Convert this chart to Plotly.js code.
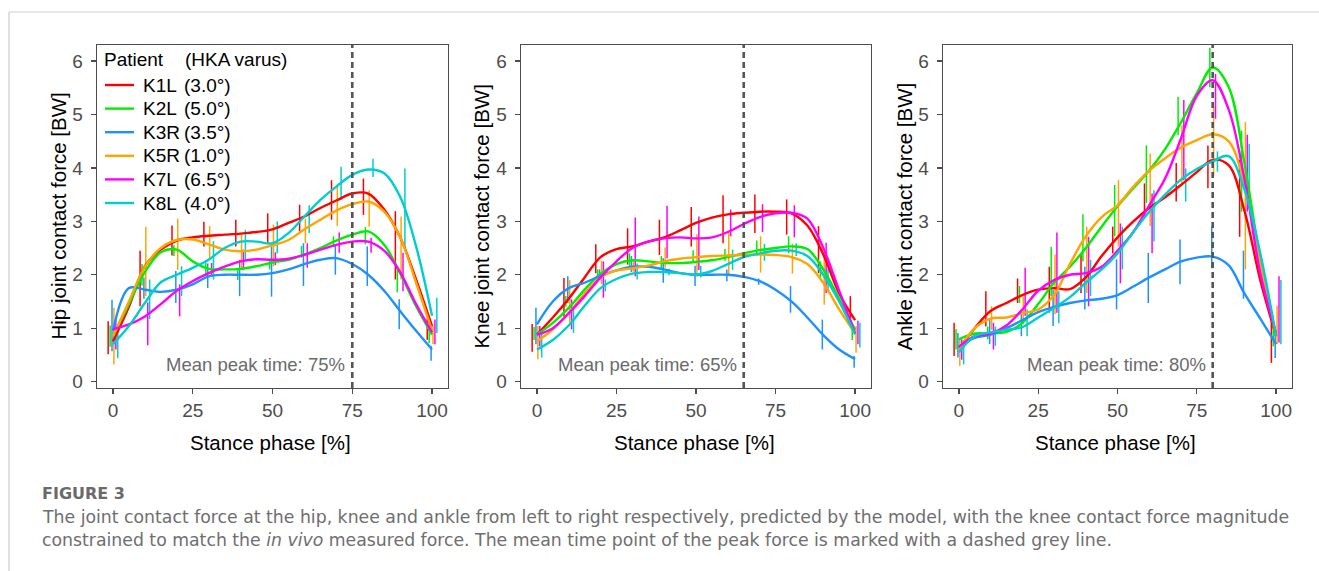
<!DOCTYPE html>
<html><head><meta charset="utf-8">
<script src="https://cdn.plot.ly/plotly-3.0.1.min.js"></script>
<style>html,body{margin:0;padding:0;background:#fff;}#chart{width:1319px;height:571px;}</style>
</head><body><div id="chart"></div>
<script>
// ---------- DATA ----------
const stanceCurve = [0,5,10,15,20,25,30,35,40,45,50,55,60,65,70,75,80,85,90,95,100];
const stanceBars = [0,10,20,30,40,50,60,70,80,90,100];
const patients = ['K1L','K2L','K3R','K5R','K7L','K8L'];
const varus = ['(3.0°)','(5.0°)','(3.5°)','(1.0°)','(6.5°)','(4.0°)'];
const yTitles = ['Hip joint contact force [BW]','Knee joint contact force [BW]','Ankle joint contact force [BW]'];
const xTitle = 'Stance phase [%]';
const peakTimes = [75, 65, 80];
const xTickVals = [0,25,50,75,100];
const yTickVals = [0,1,2,3,4,5,6];

// smooth curves (rows: K1L, K2L, K3R, K5R, K7L, K8L)
const hipCurve = [
  [0.75,1.40,2.16,2.47,2.64,2.70,2.73,2.75,2.77,2.80,2.85,2.97,3.09,3.25,3.39,3.52,3.52,3.22,2.70,1.91,1.04],
  [0.85,1.45,2.05,2.42,2.47,2.25,2.11,2.10,2.11,2.16,2.23,2.28,2.38,2.50,2.64,2.75,2.81,2.56,2.03,1.41,0.88],
  [0.95,1.75,1.72,1.68,1.72,1.82,1.97,2.00,2.00,2.00,2.03,2.10,2.20,2.28,2.31,2.20,2.00,1.70,1.32,0.95,0.60],
  [0.85,1.50,2.15,2.50,2.65,2.66,2.57,2.47,2.44,2.47,2.55,2.65,2.85,3.03,3.20,3.32,3.37,3.18,2.70,1.85,0.95],
  [0.98,1.07,1.22,1.45,1.70,1.88,2.03,2.15,2.25,2.29,2.28,2.30,2.37,2.47,2.56,2.62,2.62,2.45,2.05,1.45,0.92],
  [0.70,1.04,1.47,1.86,2.00,2.13,2.28,2.50,2.62,2.62,2.59,2.78,3.09,3.40,3.65,3.87,3.97,3.90,3.46,2.53,1.23]
];
const kneeCurve = [
  [0.88,1.20,1.55,1.95,2.33,2.48,2.53,2.62,2.70,2.83,2.97,3.07,3.13,3.16,3.18,3.18,3.15,2.92,2.38,1.65,1.15],
  [0.88,1.10,1.38,1.72,2.02,2.20,2.27,2.25,2.22,2.22,2.24,2.27,2.33,2.40,2.46,2.50,2.53,2.48,2.10,1.55,0.97],
  [1.07,1.50,1.75,1.85,1.98,2.08,2.15,2.15,2.10,2.03,2.00,2.00,2.00,1.96,1.88,1.72,1.50,1.20,0.87,0.60,0.42],
  [0.75,0.98,1.28,1.65,1.95,2.08,2.12,2.17,2.25,2.30,2.33,2.35,2.36,2.37,2.38,2.37,2.33,2.20,1.85,1.35,0.90],
  [0.88,1.00,1.28,1.60,1.95,2.25,2.50,2.62,2.68,2.70,2.68,2.70,2.80,2.95,3.08,3.15,3.16,3.05,2.50,1.70,0.90],
  [0.60,0.78,1.05,1.42,1.75,1.92,2.02,2.05,2.05,2.03,2.00,2.07,2.20,2.33,2.40,2.45,2.45,2.35,2.00,1.50,0.88]
];
const ankleCurve = [
  [0.62,1.00,1.32,1.47,1.62,1.72,1.75,1.73,1.95,2.35,2.70,3.00,3.25,3.45,3.68,3.92,4.15,4.05,3.20,1.90,0.85],
  [0.79,0.90,0.90,0.93,1.10,1.45,1.85,2.15,2.50,2.90,3.28,3.62,3.95,4.35,4.85,5.40,5.88,5.52,4.09,2.28,0.85],
  [0.65,0.82,0.88,1.00,1.15,1.30,1.40,1.47,1.52,1.55,1.62,1.78,1.95,2.10,2.25,2.32,2.34,2.18,1.65,1.18,0.70],
  [0.60,1.00,1.18,1.20,1.28,1.35,1.62,2.20,2.72,3.08,3.30,3.65,3.95,4.18,4.38,4.52,4.63,4.50,3.70,2.20,0.85],
  [0.65,0.85,0.90,1.05,1.35,1.70,1.90,2.00,2.03,2.15,2.45,2.80,3.30,3.80,4.55,5.35,5.64,5.10,3.80,2.03,0.90],
  [0.55,0.85,0.92,0.97,1.02,1.20,1.38,1.58,1.85,2.10,2.40,2.80,3.18,3.50,3.78,3.98,4.12,4.22,3.60,2.40,0.85]
];

// means and standard deviations at every 10 % of stance
const hipMean = [
  [0.82,1.93,2.64,2.76,2.78,2.87,3.06,3.40,3.46,2.55,0.98],
  [0.85,2.00,2.45,2.10,2.00,2.20,2.43,2.62,2.73,1.90,0.88],
  [1.05,1.75,1.77,1.98,1.94,2.06,2.19,2.28,2.16,1.26,0.53],
  [0.85,2.25,2.57,2.60,2.42,2.55,2.82,3.28,3.24,2.50,0.87],
  [0.88,1.08,1.52,2.10,2.28,2.30,2.36,2.60,2.55,2.05,0.93],
  [0.74,1.54,1.88,2.27,2.56,2.70,3.04,3.71,4.00,3.23,1.24]
];
const hipSd = [
  [0.31,0.52,0.28,0.23,0.25,0.28,0.25,0.37,0.34,0.64,0.20],
  [0.20,0.20,0.10,0.12,0.10,0.10,0.11,0.10,0.16,0.23,0.16],
  [0.48,0.20,0.30,0.23,0.34,0.47,0.40,0.28,0.37,0.28,0.14],
  [0.53,0.65,0.48,0.31,0.33,0.39,0.23,0.37,0.34,0.59,0.17],
  [0.28,0.40,0.30,0.12,0.19,0.12,0.23,0.19,0.14,0.36,0.23],
  [0.30,0.37,0.28,0.36,0.28,0.30,0.26,0.31,0.17,0.76,0.33]
];
const kneeMean = [
  [0.82,1.58,2.30,2.53,2.70,2.90,3.04,3.14,3.08,2.47,1.35],
  [0.90,1.50,2.00,2.27,2.23,2.35,2.37,2.50,2.56,2.10,0.90],
  [1.04,1.72,2.00,2.20,2.08,1.98,1.99,1.87,1.54,0.88,0.37],
  [0.73,1.50,2.04,2.16,2.32,2.36,2.40,2.38,2.30,1.92,0.79],
  [0.85,1.26,1.91,2.52,2.80,2.59,2.97,3.06,3.00,2.13,0.92],
  [0.68,1.16,1.80,2.06,2.05,2.06,2.28,2.42,2.47,1.90,0.87]
];
const kneeSd = [
  [0.26,0.36,0.27,0.34,0.33,0.37,0.45,0.36,0.33,0.44,0.25],
  [0.12,0.10,0.10,0.13,0.12,0.11,0.11,0.14,0.16,0.15,0.12],
  [0.34,0.25,0.10,0.15,0.23,0.19,0.11,0.06,0.25,0.28,0.11],
  [0.31,0.40,0.22,0.10,0.19,0.40,0.42,0.34,0.28,0.48,0.25],
  [0.19,0.28,0.34,0.55,0.49,0.50,0.25,0.26,0.30,0.47,0.22],
  [0.23,0.25,0.11,0.15,0.06,0.11,0.19,0.16,0.12,0.22,0.23]
];
const ankleMean = [
  [0.79,1.36,1.70,1.72,2.02,2.65,3.40,3.73,4.02,3.43,0.82],
  [0.79,0.91,1.63,2.06,2.69,3.20,3.88,4.97,5.88,3.94,0.88],
  [0.68,0.93,1.10,1.38,1.75,1.82,1.94,2.24,2.51,2.00,0.71],
  [0.54,1.19,1.33,1.82,2.28,3.15,3.59,4.24,4.49,3.48,1.06],
  [0.60,0.85,1.68,2.04,2.06,2.40,2.96,4.52,5.34,3.90,1.35],
  [0.55,0.85,1.10,1.39,1.94,2.50,3.10,3.68,4.12,3.94,1.30]
];
const ankleSd = [
  [0.31,0.33,0.23,0.43,0.36,0.25,0.31,0.36,0.40,0.72,0.47],
  [0.19,0.12,0.16,0.46,0.44,0.48,0.54,0.36,0.37,0.76,0.22],
  [0.23,0.23,0.25,0.34,0.40,0.47,0.47,0.42,0.39,0.45,0.27],
  [0.25,0.22,0.26,0.56,0.62,0.62,0.68,0.56,0.65,1.38,0.36],
  [0.19,0.25,0.45,0.75,0.65,0.56,0.56,0.75,0.42,0.72,0.62],
  [0.23,0.18,0.25,0.30,0.34,0.40,0.48,0.31,0.19,0.51,0.60]
];

const captionTitle = 'FIGURE 3';
const captionLine1 = 'The joint contact force at the hip, knee and ankle from left to right respectively, predicted by the model, with the knee contact force magnitude';
const captionLine2 = 'constrained to match the <i>in vivo</i> measured force. The mean time point of the peak force is marked with a dashed grey line.';

// ---------- STYLE ----------
const colors = ['#FF0000','#00EE00','#1E90FF','#FFA500','#FF00FF','#00CDCD'];
const W = 1319, H = 571;
const FONT = 'Liberation Sans, Arial, sans-serif';
const px = v => v / W;
const py = v => 1 - v / H;
const panelX = [[97,448],[521,871],[943,1292]];
const panelY = [45,388];
const yTitleX = [58, 481, 904];

const curves = [hipCurve, kneeCurve, ankleCurve];
const means = [hipMean, kneeMean, ankleMean];
const sds = [hipSd, kneeSd, ankleSd];

const traces = [];
const layout = {
  width: W, height: H,
  margin: {l:0, r:0, t:0, b:0},
  paper_bgcolor: '#fff', plot_bgcolor: '#fff',
  showlegend: false,
  font: {family: FONT},
  shapes: [], annotations: []
};

for (let j = 0; j < 3; j++) {
  const s = j === 0 ? '' : String(j + 1);
  const xa = 'x' + s, ya = 'y' + s;
  for (let i = 0; i < patients.length; i++) {
    traces.push({
      type: 'scatter', mode: 'markers', xaxis: xa, yaxis: ya,
      x: stanceBars.map(v => v + (i - 2.5) * 0.6),
      y: means[j][i],
      marker: {size: 2, opacity: 0, color: colors[i]},
      error_y: {type: 'data', array: sds[j][i], visible: true, width: 0, thickness: 1.5, color: colors[i]},
      hoverinfo: 'skip', showlegend: false
    });
  }
  for (let i = 0; i < patients.length; i++) {
    traces.push({
      type: 'scatter', mode: 'lines', xaxis: xa, yaxis: ya,
      x: stanceCurve, y: curves[j][i],
      line: {shape: 'spline', smoothing: 1, color: colors[i], width: 2.4},
      name: patients[i] + ' ' + varus[i], showlegend: false
    });
  }
  const axCommon = {
    showline: true, mirror: true, linecolor: '#4d4d4d', linewidth: 1.3,
    ticks: 'outside', ticklen: 5, tickwidth: 1.3, tickcolor: '#4d4d4d',
    showgrid: false, zeroline: false,
    tickfont: {family: FONT, size: 19, color: '#4d4d4d'}
  };
  layout['xaxis' + s] = Object.assign({}, axCommon, {
    domain: [px(panelX[j][0]), px(panelX[j][1])], anchor: ya,
    range: [-5, 105], tickvals: xTickVals, ticktext: xTickVals.map(String)
  });
  layout['yaxis' + s] = Object.assign({}, axCommon, {
    domain: [py(panelY[1]), py(panelY[0])], anchor: xa,
    range: [-0.12, 6.3], tickvals: yTickVals, ticktext: yTickVals.map(String),
    ticklabelstandoff: 4
  });
  // dashed line at mean peak time
  layout.shapes.push({
    type: 'line', xref: xa, yref: ya + ' domain', x0: peakTimes[j], x1: peakTimes[j], y0: 0, y1: 1,
    line: {color: '#555555', width: 2.6, dash: '6px,4px'}, layer: 'above'
  });
  layout.annotations.push({
    xref: xa, yref: ya, x: peakTimes[j] - 1.6, y: 0.32, xanchor: 'right', yanchor: 'middle',
    text: 'Mean peak time: ' + peakTimes[j] + '%', showarrow: false,
    font: {family: FONT, size: 18.5, color: '#6b6b6b'}
  });
  // axis titles
  layout.annotations.push({
    xref: 'paper', yref: 'paper', x: px((panelX[j][0] + panelX[j][1]) / 2 - 2), y: py(442),
    xanchor: 'center', yanchor: 'middle', text: xTitle, showarrow: false,
    font: {family: FONT, size: 20.5, color: '#000'}
  });
  layout.annotations.push({
    xref: 'paper', yref: 'paper', x: px(yTitleX[j]), y: py((panelY[0] + panelY[1]) / 2),
    xanchor: 'center', yanchor: 'middle', textangle: -90, text: yTitles[j], showarrow: false,
    font: {family: FONT, size: 20.5, color: '#000'}
  });
}

// legend drawn inside the hip panel
const legFont = {family: FONT, size: 19, color: '#000'};
layout.annotations.push({xref:'paper', yref:'paper', x: px(102), y: py(60), xanchor:'left', yanchor:'middle',
  text:'Patient', showarrow:false, font: legFont});
layout.annotations.push({xref:'paper', yref:'paper', x: px(183), y: py(60), xanchor:'left', yanchor:'middle',
  text:'(HKA varus)', showarrow:false, font: legFont});
for (let i = 0; i < patients.length; i++) {
  const yy = 85 + i * 23.6;
  layout.shapes.push({type:'line', xref:'paper', yref:'paper', x0: px(105), x1: px(134), y0: py(yy), y1: py(yy),
    line: {color: colors[i], width: 2.4}});
  layout.annotations.push({xref:'paper', yref:'paper', x: px(141), y: py(yy), xanchor:'left', yanchor:'middle',
    text: patients[i], showarrow:false, font: legFont});
  layout.annotations.push({xref:'paper', yref:'paper', x: px(182), y: py(yy), xanchor:'left', yanchor:'middle',
    text: varus[i], showarrow:false, font: legFont});
}

// frame lines around the figure block
layout.shapes.push({type:'line', xref:'paper', yref:'paper', x0: px(9), x1: 1, y0: py(12), y1: py(12),
  line:{color:'#cccccc', width:1.2}});
layout.shapes.push({type:'line', xref:'paper', yref:'paper', x0: px(9), x1: px(9), y0: py(12), y1: 0,
  line:{color:'#cccccc', width:1.2}});

// caption
const capFamily = 'DejaVu Sans, Open Sans, sans-serif';
const capFont = {family: capFamily, size: 17.3, color: '#6e6e6e'};
layout.annotations.push({xref:'paper', yref:'paper', x: px(40), y: py(493), xanchor:'left', yanchor:'middle',
  text: '<b>' + captionTitle + '</b>', showarrow:false, font: {family: capFamily, size: 16, color: '#6a6a6a'}});
layout.annotations.push({xref:'paper', yref:'paper', x: px(40), y: py(517), xanchor:'left', yanchor:'middle',
  text: captionLine1, showarrow:false, font: capFont});
layout.annotations.push({xref:'paper', yref:'paper', x: px(40), y: py(540), xanchor:'left', yanchor:'middle',
  text: captionLine2, showarrow:false, font: capFont});

Plotly.newPlot('chart', traces, layout, {staticPlot: true, displayModeBar: false});
</script>
</body></html>
